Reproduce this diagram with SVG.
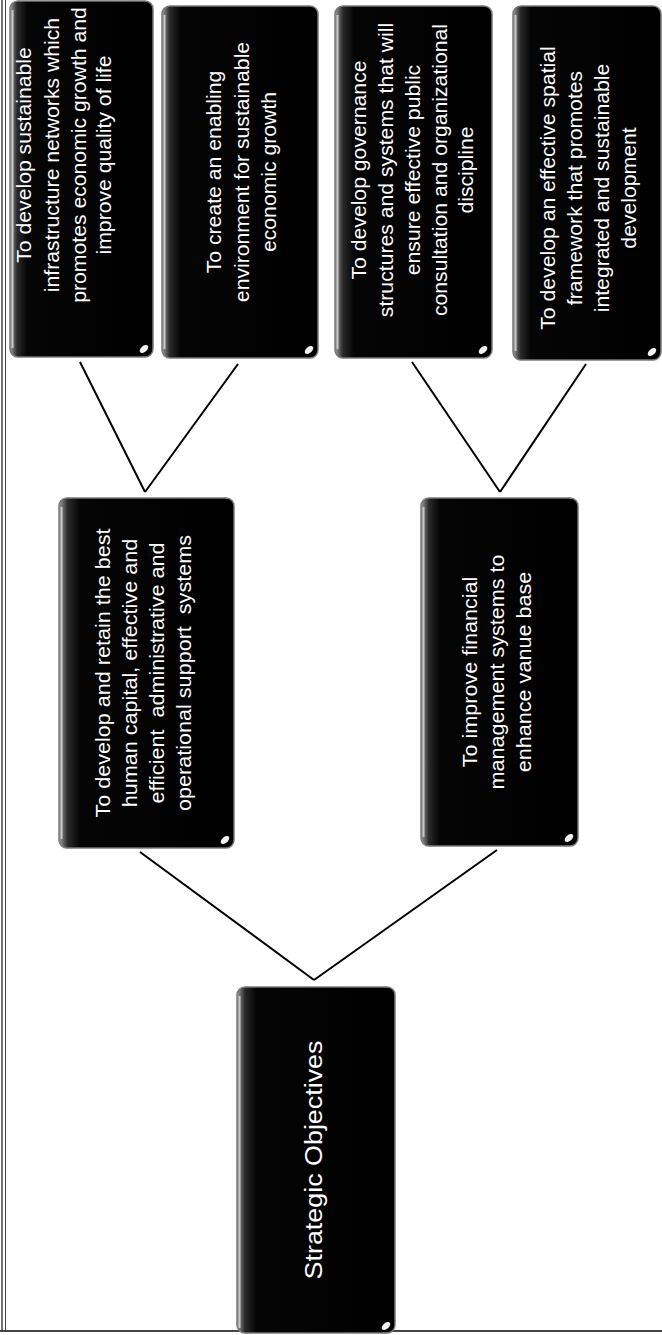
<svg xmlns="http://www.w3.org/2000/svg" width="662" height="1335" viewBox="0 0 662 1335">
<style>
.box{fill:url(#bg);stroke:#7a7a7a;stroke-width:1.5}
.hl{stroke:#c8c8c8;stroke-width:2;fill:none}
.gl{fill:#f2f2f2}
.t{fill:#ffffff;font-family:"Liberation Sans","Noto Sans",sans-serif;font-size:20px;text-anchor:middle;dominant-baseline:central;white-space:pre}
.r{font-size:24px}
.c{stroke:#000;stroke-width:2;fill:none}
.bd{stroke:#444;fill:none}
</style>
<defs>
<linearGradient id="bg" x1="0" y1="0" x2="1" y2="0">
<stop offset="0" stop-color="#9c9c9c"/>
<stop offset="0.05" stop-color="#2a2a2a"/>
<stop offset="0.12" stop-color="#050505"/>
<stop offset="1" stop-color="#000"/>
</linearGradient>
</defs>
<rect width="662" height="1335" fill="#fff"/>
<g id="border">
<line class="bd" x1="2" y1="0" x2="2" y2="1331" stroke-width="1.5"/>
<line class="bd" x1="5.5" y1="0" x2="5.5" y2="1331" stroke-width="1"/>
<line class="bd" x1="0" y1="1331" x2="662" y2="1331" stroke-width="2"/>
</g>
<g id="connectors">
<line class="c" x1="80" y1="362" x2="145" y2="492"/>
<line class="c" x1="238" y1="364" x2="145" y2="492"/>
<line class="c" x1="412" y1="362" x2="500" y2="492"/>
<line class="c" x1="586" y1="364" x2="500" y2="492"/>
<line class="c" x1="140" y1="852" x2="314" y2="980"/>
<line class="c" x1="497" y1="850" x2="314" y2="980"/>
</g>
<g id="nodeA">
<rect class="box" x="10" y="1" width="143" height="356" rx="8"/>
<line class="hl" x1="12.5" y1="10" x2="12.5" y2="348"/>
<ellipse class="gl" cx="144" cy="349" rx="5" ry="3" transform="rotate(-40 144 349)"/>
<text class="t" transform="translate(24,155) rotate(-90) scale(1.06,1)">To develop sustainable</text>
<text class="t" transform="translate(52,155) rotate(-90) scale(1.06,1)">infrastructure networks which</text>
<text class="t" transform="translate(79,155) rotate(-90) scale(1.06,1)">promotes economic growth and</text>
<text class="t" transform="translate(104,155) rotate(-90) scale(1.06,1)">improve quality of life</text>
</g>
<g id="nodeB">
<rect class="box" x="162" y="6" width="156" height="352" rx="8"/>
<line class="hl" x1="164.5" y1="15" x2="164.5" y2="349"/>
<ellipse class="gl" cx="309" cy="350" rx="5" ry="3" transform="rotate(-40 309 350)"/>
<text class="t" transform="translate(214,172) rotate(-90) scale(1.06,1)">To create an enabling</text>
<text class="t" transform="translate(242,172) rotate(-90) scale(1.06,1)">environment for sustainable</text>
<text class="t" transform="translate(269,172) rotate(-90) scale(1.06,1)">economic growth</text>
</g>
<g id="nodeC">
<rect class="box" x="335" y="6" width="157" height="352" rx="8"/>
<line class="hl" x1="337.5" y1="15" x2="337.5" y2="349"/>
<ellipse class="gl" cx="483" cy="350" rx="5" ry="3" transform="rotate(-40 483 350)"/>
<text class="t" transform="translate(359,170) rotate(-90) scale(1.06,1)">To develop governance</text>
<text class="t" transform="translate(386,170) rotate(-90) scale(1.06,1)">structures and systems that will</text>
<text class="t" transform="translate(413,170) rotate(-90) scale(1.06,1)">ensure effective public</text>
<text class="t" transform="translate(440,170) rotate(-90) scale(1.06,1)">consultation and organizational</text>
<text class="t" transform="translate(466,170) rotate(-90) scale(1.06,1)">discipline</text>
</g>
<g id="nodeD">
<rect class="box" x="513" y="6" width="148" height="354" rx="8"/>
<line class="hl" x1="515.5" y1="15" x2="515.5" y2="351"/>
<ellipse class="gl" cx="652" cy="352" rx="5" ry="3" transform="rotate(-40 652 352)"/>
<text class="t" transform="translate(548,188) rotate(-90) scale(1.06,1)">To develop an effective spatial</text>
<text class="t" transform="translate(575,188) rotate(-90) scale(1.06,1)">framework that promotes</text>
<text class="t" transform="translate(602,188) rotate(-90) scale(1.06,1)">integrated and sustainable</text>
<text class="t" transform="translate(629,188) rotate(-90) scale(1.06,1)">development</text>
</g>
<g id="nodeE">
<rect class="box" x="59" y="498" width="175" height="350" rx="8"/>
<line class="hl" x1="61.5" y1="507" x2="61.5" y2="839"/>
<ellipse class="gl" cx="225" cy="840" rx="5" ry="3" transform="rotate(-40 225 840)"/>
<text class="t" transform="translate(103,673) rotate(-90) scale(1.08,1)">To develop and retain the best</text>
<text class="t" transform="translate(130,673) rotate(-90) scale(1.08,1)">human capital, effective and</text>
<text class="t" transform="translate(157,673) rotate(-90) scale(1.08,1)">efficient  administrative and</text>
<text class="t" transform="translate(184,673) rotate(-90) scale(1.08,1)">operational support  systems</text>
</g>
<g id="nodeF">
<rect class="box" x="421" y="498" width="157" height="348" rx="8"/>
<line class="hl" x1="423.5" y1="507" x2="423.5" y2="837"/>
<ellipse class="gl" cx="569" cy="838" rx="5" ry="3" transform="rotate(-40 569 838)"/>
<text class="t" transform="translate(470,672) rotate(-90) scale(1.08,1)">To improve financial</text>
<text class="t" transform="translate(497,672) rotate(-90) scale(1.08,1)">management systems to</text>
<text class="t" transform="translate(524,672) rotate(-90) scale(1.08,1)">enhance vanue base</text>
</g>
<g id="root">
<rect class="box" x="237" y="987" width="158" height="346" rx="8"/>
<line class="hl" x1="239.5" y1="996" x2="239.5" y2="1328"/>
<ellipse class="gl" cx="386" cy="1326" rx="5" ry="3" transform="rotate(-40 386 1326)"/>
<text class="t r" transform="translate(314,1160) rotate(-90) scale(1.12,1)">Strategic Objectives</text>
</g>
</svg>
